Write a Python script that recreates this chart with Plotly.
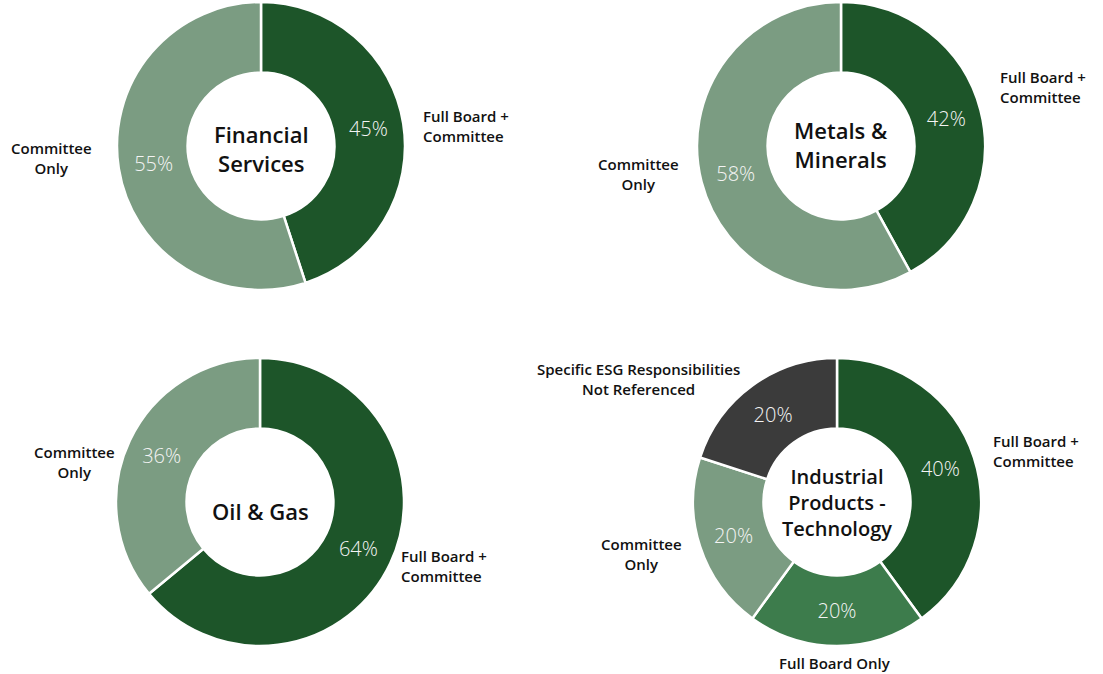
import plotly.graph_objects as go

W, H = 1103, 674

# data
fs_labels = ["Full Board + Committee", "Committee Only"]
fs_values = [45, 55]
mm_labels = ["Full Board + Committee", "Committee Only"]
mm_values = [42, 58]
og_labels = ["Full Board + Committee", "Committee Only"]
og_values = [64, 36]
ip_labels = ["Full Board + Committee", "Full Board Only", "Committee Only",
             "Specific ESG Responsibilities Not Referenced"]
ip_values = [40, 20, 20, 20]

colors = {
    "Full Board + Committee": "#1d5529",
    "Committee Only": "#7b9c82",
    "Full Board Only": "#3d7c4c",
    "Specific ESG Responsibilities Not Referenced": "#3b3b3b",
}

FONT = "Open Sans"


def px(x, y):
    return x / W, 1 - y / H


def domain(cx, cy, r):
    x0, y1 = px(cx - r, cy - r)
    x1, y0 = px(cx + r, cy + r)
    return dict(x=[max(x0, 0), min(x1, 1)], y=[max(y0, 0), min(y1, 1)])


fig = go.Figure()

donuts = [
    (fs_labels, fs_values, 261, 146),
    (mm_labels, mm_values, 841, 146),
    (og_labels, og_values, 260, 502),
    (ip_labels, ip_values, 837, 502),
]
for labels, values, cx, cy in donuts:
    fig.add_trace(go.Pie(
        labels=labels,
        values=values,
        hole=0.51,
        sort=False,
        direction="clockwise",
        rotation=0,
        domain=domain(cx, cy, 144),
        marker=dict(colors=[colors[l] for l in labels],
                    line=dict(color="white", width=2.5)),
        texttemplate="%{percent:.0%}",
        textposition="inside",
        insidetextorientation="horizontal",
        textfont=dict(family=FONT, size=20, color="#f4f4f4", weight=300),
        hoverinfo="label+percent",
        showlegend=False,
    ))


def note(txt, x, y, size=15, anchor="center"):
    ax, ay = px(x, y)
    fig.add_annotation(
        x=ax, y=ay, xref="paper", yref="paper", text=txt,
        showarrow=False, xanchor=anchor, yanchor="middle",
        align="left" if anchor == "left" else "center",
        font=dict(family=FONT, size=size, color="#111111", weight=600),
    )


# center titles
note("Financial<br>Services", 261, 148, size=22)
note("Metals &<br>Minerals", 841, 145, size=22)
note("Oil & Gas", 260, 511, size=22)
note("Industrial<br>Products -<br>Technology", 837, 502, size=20)

# slice labels
note("Full Board +<br>Committee", 421, 126, anchor="left")
note("Committee<br>Only", 51, 158)
note("Full Board +<br>Committee", 998, 87, anchor="left")
note("Committee<br>Only", 639, 174)
note("Committee<br>Only", 74, 462)
note("Full Board +<br>Committee", 399, 566, anchor="left")
note("Specific ESG Responsibilities<br>Not Referenced", 639, 379)
note("Full Board +<br>Committee", 991, 451, anchor="left")
note("Committee<br>Only", 641, 554)
note("Full Board Only", 835, 663)

fig.update_layout(
    width=W, height=H,
    margin=dict(l=0, r=0, t=0, b=0),
    paper_bgcolor="white",
    plot_bgcolor="white",
)

# drop the default page margin so the figure fills the window
fig.write_html("out.html", config={"displayModeBar": False},
               post_script="document.body.style.margin='0';")
